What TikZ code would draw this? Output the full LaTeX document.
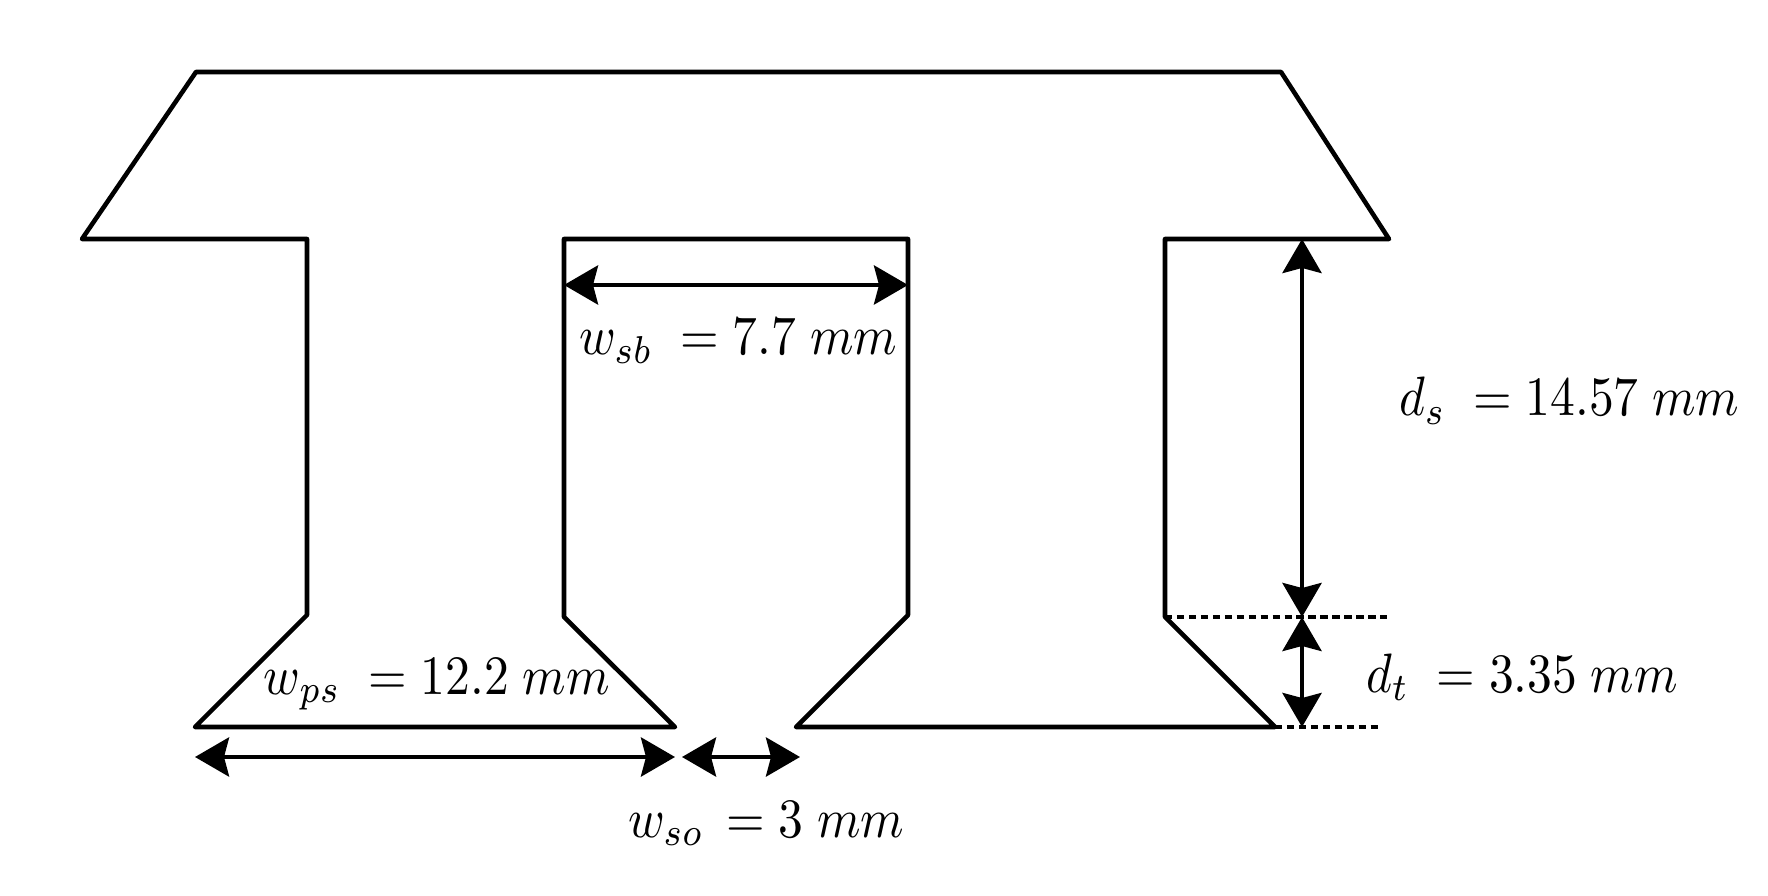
\documentclass[tikz,border=0pt]{standalone}
\usepackage{amsmath}
\usepackage{amssymb}
\usepackage{tikz}
\usetikzlibrary{calc,arrows.meta}

\tikzset{
	toothline/.style={line width=1.3pt,line join=round,line cap=round},
	dimarrow/.style={line width=1.3pt,{Stealth[length=3.4mm,width=3.9mm,inset=0.5mm]}-{Stealth[length=3.4mm,width=3.9mm,inset=0.5mm]},shorten <=0pt,shorten >=0pt},
	dimline/.style={line width=1.3pt,dash pattern=on 2.1pt off 1.3pt},
	dimlabel/.style={anchor=base west,inner sep=0pt,xscale=1.41,yscale=1.58}
}

\begin{document}
\begin{tikzpicture}
	\useasboundingbox (0,0) rectangle (17.68,8.95);
	% outline of the tooth
	\coordinate (topl) at (1.96,8.23);
	\coordinate (topr) at (12.81,8.23);
	\coordinate (yoker) at (13.89,6.56);
	\coordinate (slotrt) at (11.65,6.56);
	\coordinate (slotrb) at (11.65,2.78);
	\coordinate (tipr) at (12.75,1.68);
	\coordinate (openr) at (7.96,1.68);
	\coordinate (midrb) at (9.08,2.80);
	\coordinate (midrt) at (9.08,6.56);
	\coordinate (midlt) at (5.64,6.56);
	\coordinate (midlb) at (5.64,2.78);
	\coordinate (openl) at (6.75,1.68);
	\coordinate (tipl) at (1.95,1.68);
	\coordinate (slotlb) at (3.07,2.80);
	\coordinate (slotlt) at (3.07,6.56);
	\coordinate (yokel) at (0.82,6.56);
	\draw[toothline] (topl) -- (topr) -- (yoker) -- (slotrt) -- (slotrb) -- (tipr) -- (openr) -- (midrb) -- (midrt) -- (midlt) -- (midlb) -- (openl) -- (tipl) -- (slotlb) -- (slotlt) -- (yokel) -- cycle;
	% dotted guides
	\coordinate (guidea) at (13.87,2.78);
	\coordinate (guideb) at (13.81,1.68);
	\draw[dimline] (slotrb) -- (guidea);
	\draw[dimline] (tipr) -- (guideb);
	% dimension arrows
	\coordinate (wsba) at (5.64,6.10);
	\coordinate (wsbb) at (9.08,6.10);
	\coordinate (wpsa) at (1.95,1.38);
	\coordinate (wpsb) at (6.75,1.38);
	\coordinate (wsoa) at (6.82,1.38);
	\coordinate (wsob) at (8.00,1.38);
	\coordinate (dsa) at (13.02,6.56);
	\coordinate (dsb) at (13.02,2.78);
	\coordinate (dta) at (13.02,2.78);
	\coordinate (dtb) at (13.02,1.68);
	\draw[dimarrow] (wsba) -- (wsbb);
	\draw[dimarrow] (wpsa) -- (wpsb);
	\draw[dimarrow] (wsoa) -- (wsob);
	\draw[dimarrow] (dsa) -- (dsb);
	\draw[dimarrow] (dta) -- (dtb);
	% labels
	\node[dimlabel] (wsb) at (5.78,5.40) {$w_{sb}\;=7.7\;mm$};
	\node[dimlabel] (wps) at (2.63,2.01) {$w_{ps}\;=12.2\;mm$};
	\node[dimlabel] (wso) at (6.27,0.58) {$w_{so}\,=3\;mm$};
	\node[dimlabel] (ds) at (13.98,4.79) {$d_s\;=14.57\;mm$};
	\node[dimlabel] (dt) at (13.65,2.03) {$d_t\;=3.35\;mm$};
\end{tikzpicture}
\end{document}
